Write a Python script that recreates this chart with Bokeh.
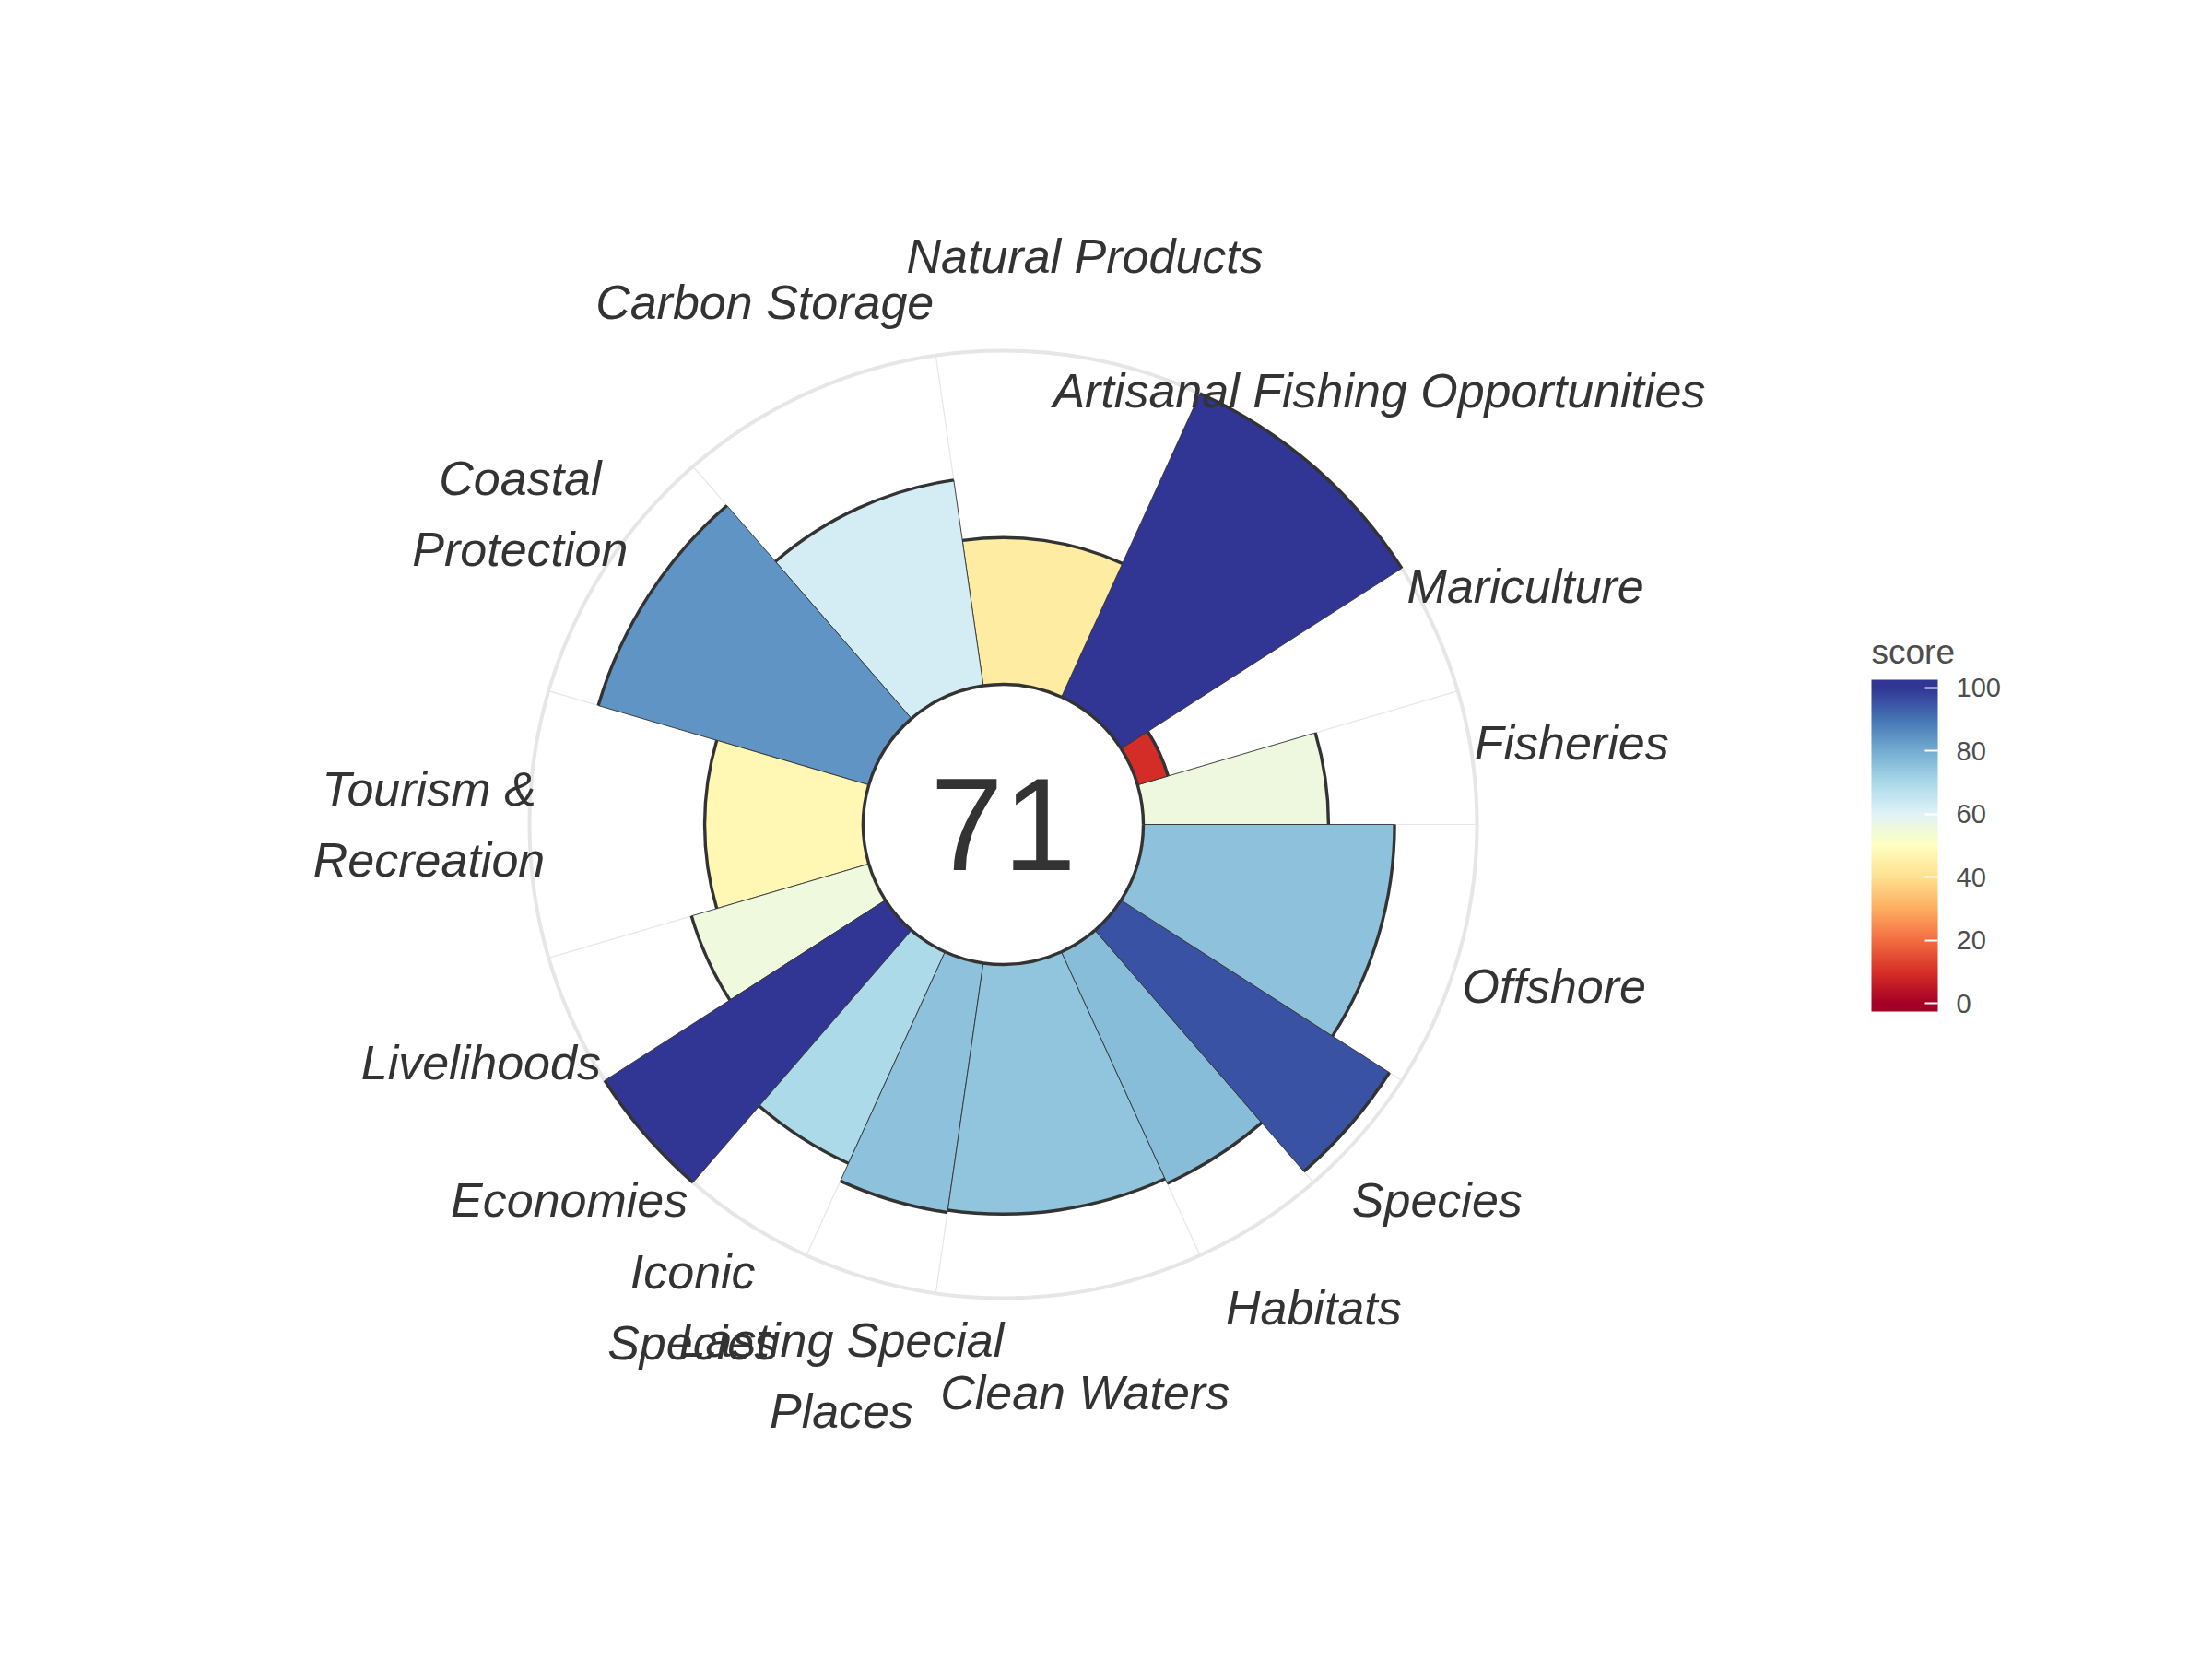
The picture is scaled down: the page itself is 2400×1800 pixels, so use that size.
import numpy as np
from bokeh.plotting import figure
from bokeh.models import ColumnDataSource, LinearColorMapper, ColorBar, FixedTicker, Range1d, Label
from bokeh.core.properties import value
from bokeh.embed import file_html
from bokeh.resources import INLINE

# ---------------- data ----------------
goals = ["Fisheries", "Mariculture", "Artisanal Fishing Opportunities", "Natural Products",
         "Carbon Storage", "Coastal\nProtection", "Tourism &\nRecreation", "Livelihoods",
         "Economies", "Iconic\nSpecies", "Lasting Special\nPlaces", "Clean Waters",
         "Habitats", "Species", "Offshore"]
scores = [55.5, 9.5, 100.0, 44.0, 62.3, 84.5, 47.5, 55.4, 100.0, 69.7, 75.5, 74.8, 76.3, 95.6, 75.3]
weights = [0.5, 0.5, 1, 1, 1, 1, 1, 0.5, 0.5, 0.5, 0.5, 1, 0.5, 0.5, 1]
index_score = 71
legend_title = "score"
legend_ticks = [0, 20, 40, 60, 80, 100]
rdylbu11 = ["#a50026", "#d73027", "#f46d43", "#fdae61", "#fee090", "#ffffbf",
            "#e0f3f8", "#abd9e9", "#74add1", "#4575b4", "#313695"]

# ---------------- styling / geometry ----------------
W, H = 2384, 1784
CX, CY = 1088, 894  # centre of the flower in screen px
HOLE = 152.0      # radius of the blank centre (score 0)
FULL = 514.0      # radius of score 100
LABEL_R = 623.0   # radius where goal labels sit
LINE_H = 77.0     # line spacing of two-line labels
DARK = "#333333"
GREY_TXT = "#4D4D4D"
GRID = "#E6E6E6"
FONT = "Liberation Sans"

# colour palette (gradient through RdYlBu, 0..100), with colour-bar overhang like ggplot's
lo, hi = -2.63, 102.63
def hex2rgb(h):
    return np.array([int(h[i:i + 2], 16) for i in (1, 3, 5)], dtype=float)
stops = np.linspace(0, 100, len(rdylbu11))
rgbs = np.array([hex2rgb(c) for c in rdylbu11])
vals = np.linspace(lo, hi, 1053)
pal = []
for v in vals:
    vv = min(max(v, 0), 100)
    c = [np.interp(vv, stops, rgbs[:, k]) for k in range(3)]
    pal.append("#%02x%02x%02x" % tuple(int(round(x)) for x in c))
mapper = LinearColorMapper(palette=pal, low=lo, high=hi)

# ---------------- derived geometry ----------------
w = np.array(weights, dtype=float)
cum = np.cumsum(w)
tot = w.sum()
a0 = (cum - w) / tot * 2 * np.pi
a1 = cum / tot * 2 * np.pi
mid = (a0 + a1) / 2
sc = np.array(scores, dtype=float)
rad = HOLE + (FULL - HOLE) * sc / 100.0

src = ColumnDataSource(dict(goal=goals, score=sc, r=rad, a0=a0, a1=a1))

p = figure(width=W, height=H, x_range=Range1d(-CX, W - CX), y_range=Range1d(-(H - CY), CY),
           output_backend="svg", toolbar_location=None, min_border=0,
           x_axis_type=None, y_axis_type=None, outline_line_color=None,
           background_fill_color="white", border_fill_color="white")
p.grid.visible = False

# grid: outer circle and radial lines at petal boundaries
p.scatter(x=[0], y=[0], size=2 * FULL, marker="circle", fill_color=None,
          line_color=GRID, line_width=4)
p.segment(x0=HOLE * np.cos(a0), y0=HOLE * np.sin(a0), x1=FULL * np.cos(a0), y1=FULL * np.sin(a0),
          line_color=GRID, line_width=1.2)

# petals
p.annular_wedge(x=0, y=0, inner_radius=HOLE, outer_radius="r", start_angle="a0", end_angle="a1",
                fill_color={"field": "score", "transform": mapper}, line_color=DARK,
                line_width=0.9, source=src)
# outer score arcs
p.arc(x=0, y=0, radius="r", start_angle="a0", end_angle="a1", line_color=DARK,
      line_width=3.4, source=src)
# inner ring
p.arc(x=0, y=0, radius=HOLE, start_angle="a0", end_angle="a1", line_color=DARK,
      line_width=3.4, source=src)

# centre score
p.text(x=[0], y=[0], text=[str(index_score)], text_font=value(FONT), text_font_size="142px",
       text_color=DARK, text_align="center", text_baseline="middle")

# labels
lx, ly, lt, lo_ = [], [], [], []
for g, m in zip(goals, mid):
    lines = g.split("\n")
    n = len(lines)
    for i, ln in enumerate(lines):
        lx.append(LABEL_R * np.cos(m))
        ly.append(LABEL_R * np.sin(m))
        lt.append(ln)
        lo_.append((i - (n - 1) / 2) * LINE_H)
lsrc = ColumnDataSource(dict(x=lx, y=ly, text=lt, yo=lo_))
p.text(x="x", y="y", text="text", y_offset="yo", source=lsrc, text_font=value(FONT),
       text_font_style="italic", text_font_size="52px", text_color=DARK,
       text_align="center", text_baseline="middle")

# colour bar legend
cb = ColorBar(color_mapper=mapper, ticker=FixedTicker(ticks=legend_ticks), orientation="vertical",
              width=72, height=360, location=(2030, H - 1097), padding=0,
              major_label_text_font=FONT, major_label_text_font_size="29px",
              major_label_text_color=GREY_TXT, major_tick_line_color="white",
              major_tick_line_width=2, major_tick_in=14, major_tick_out=0,
              minor_tick_line_color=None, label_standoff=20, bar_line_color=None,
              border_line_color=None, background_fill_color=None)
p.add_layout(cb, "center")
p.add_layout(Label(x=2030, y=H - 707, x_units="screen", y_units="screen", text=legend_title,
                   text_font=FONT, text_font_size="37px", text_color=GREY_TXT,
                   text_align="left", text_baseline="alphabetic"))

open("out.html", "w").write(file_html(p, INLINE))
